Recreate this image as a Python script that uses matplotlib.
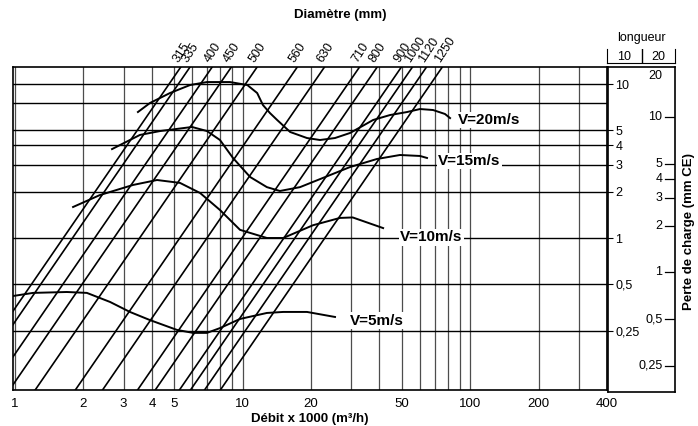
import numpy as np
import matplotlib
matplotlib.use('Agg')
import matplotlib.pyplot as plt
from matplotlib.ticker import NullLocator

plt.rcParams['font.family'] = ['Liberation Sans', 'DejaVu Sans']

# --- données lues sur l'abaque ---
# lignes de diamètre : débit (x1000 m3/h) pour une perte de 1 mm CE
DIAMETRES = [315, 335, 400, 450, 500, 560, 630, 710, 800, 900, 1000, 1120, 1250]
DEBIT_A_1MM = [1.63, 1.79, 2.24, 2.72, 3.53, 5.30, 6.98, 9.95, 11.9, 15.2, 17.0, 19.6, 23.0]
PENTE = 2.15

# courbes de vitesse
V20_DEBIT = [3.47, 3.92, 4.80, 5.88, 6.98, 8.81, 10.5, 11.6, 12.3, 13.2, 14.2, 16.2, 19.2,
             21.9, 25.5, 29.7, 37.5, 44.5, 52.9, 60.3, 68.8, 77.6, 81.7]
V20_PERTE = [6.58, 7.53, 8.74, 9.85, 10.3, 10.3, 9.85, 8.74, 7.3, 6.48, 5.84, 4.88, 4.46,
             4.33, 4.46, 4.81, 5.84, 6.29, 6.58, 6.88, 6.78, 6.39, 6.01]
V15_DEBIT = [2.67, 3.54, 4.34, 6.00, 6.98, 7.96, 9.08, 10.8, 12.8, 14.6, 17.9, 29.7, 39.0, 49.2, 60.3, 64.7]
V15_PERTE = [3.78, 4.67, 4.95, 5.26, 4.95, 4.33, 3.31, 2.49, 2.14, 2.02, 2.14, 2.89, 3.26, 3.46, 3.41, 3.31]
V10_DEBIT = [1.80, 2.36, 3.30, 4.21, 5.31, 6.51, 7.96, 9.75, 12.8, 15.1, 20.4, 26.8, 30.5, 41.5]
V10_PERTE = [1.59, 1.90, 2.21, 2.38, 2.28, 1.96, 1.52, 1.13, 1.00, 1.00, 1.21, 1.35, 1.36, 1.16]
V5_DEBIT = [0.98, 1.20, 1.69, 2.07, 2.62, 3.20, 3.92, 5.15, 6.06, 6.98, 7.96, 9.75, 12.8, 15.1, 19.2, 25.5]
V5_PERTE = [0.42, 0.44, 0.446, 0.44, 0.384, 0.331, 0.293, 0.253, 0.242, 0.242, 0.260, 0.298, 0.326,
            0.331, 0.331, 0.307]
VITESSES = ['V=20m/s', 'V=15m/s', 'V=10m/s', 'V=5m/s']
POS_ETIQUETTES = [(88.6, 5.84), (72.3, 3.16), (49.2, 1.01), (29.7, 0.29)]

# grilles et graduations
GRILLE_DEBIT = [1, 2, 3, 4, 5, 6, 7, 8, 9, 10, 20, 30, 40, 50, 60, 70, 80, 90, 100, 200, 300, 400]
GRILLE_PERTE = [10, 7.5, 5, 4, 3, 2, 1, 0.5, 0.25]
XTICKS = [1, 2, 3, 4, 5, 10, 20, 50, 100, 200, 400]
XTICK_LABELS = ['1', '2', '3', '4', '5', '10', '20', '50', '100', '200', '400']
LONG10_VALS = [10, 5, 4, 3, 2, 1, 0.5, 0.25]
LONG10_LABELS = ['10', '5', '4', '3', '2', '1', '0,5', '0,25']
LONG20_VALS = [20, 10, 5, 4, 3, 2, 1, 0.5, 0.25]
LONG20_LABELS = ['20', '10', '5', '4', '3', '2', '1', '0,5', '0,25']

W, H = 698, 426
fig = plt.figure(figsize=(W / 100, H / 100), dpi=100)

ax = fig.add_axes([13 / W, 36 / H, 594 / W, 323 / H])
ax.set_xscale('log')
ax.set_yscale('log')
ax.set_xlim(0.98, 400)
ax.set_ylim(0.103, 12.9)

for q in GRILLE_DEBIT:
    ax.axvline(q, color='#4d4d4d', lw=0.9, zorder=1)
for p in GRILLE_PERTE:
    ax.axhline(p, color='black', lw=1.0, zorder=1)

# lignes de diamètre
p_lim = np.array(ax.get_ylim())
for d, q1 in zip(DIAMETRES, DEBIT_A_1MM):
    q_vals = q1 * p_lim ** (1 / PENTE)
    ax.plot(q_vals, p_lim, color='black', lw=1.2, zorder=2)
    ax.annotate(str(d), (q_vals[1], p_lim[1]), xytext=(0, 2), textcoords='offset points',
                rotation=57, rotation_mode='anchor', ha='left', va='bottom',
                fontsize=9, annotation_clip=False)

# courbes de vitesse
courbes = [(V20_DEBIT, V20_PERTE), (V15_DEBIT, V15_PERTE), (V10_DEBIT, V10_PERTE), (V5_DEBIT, V5_PERTE)]
for (qs, ps), nom, pos in zip(courbes, VITESSES, POS_ETIQUETTES):
    ax.plot(qs, ps, color='black', lw=1.4, zorder=3)
    ax.text(pos[0], pos[1], nom, ha='left', va='center', fontsize=11, fontweight='bold',
            zorder=4, bbox=dict(facecolor='white', edgecolor='none', pad=1))

ax.xaxis.set_minor_locator(NullLocator())
ax.yaxis.set_minor_locator(NullLocator())
ax.set_xticks(XTICKS)
ax.set_xticklabels(XTICK_LABELS)
ax.tick_params(axis='x', length=0, pad=6, labelsize=9.5)
ax.yaxis.tick_right()
ax.set_yticks(LONG10_VALS)
ax.set_yticklabels(LONG10_LABELS)
ax.tick_params(axis='y', length=4, pad=2, labelsize=9)
for s in ax.spines.values():
    s.set_linewidth(1.2)
ax.set_xlabel('Débit x 1000 (m³/h)', fontsize=9.5, fontweight='bold', labelpad=2)

# échelle longueur 20 m
ax2 = fig.add_axes([608 / W, 34 / H, 67 / W, 325 / H])
ax2.set_facecolor('none')
ax2.set_yscale('log')
ax2.set_ylim(0.17, 21)
ax2.set_xlim(0, 1)
ax2.set_xticks([])
ax2.yaxis.set_minor_locator(NullLocator())
ax2.set_yticks([])
for s in ax2.spines.values():
    s.set_linewidth(1.2)
for v, lab in zip(LONG20_VALS, LONG20_LABELS):
    haut = v == max(LONG20_VALS)
    ax2.text(0.81, v, lab, ha='right', va='top' if haut else 'center', fontsize=9)
    if not haut:
        ax2.plot([0.85, 1.0], [v, v], color='black', lw=0.9)

# en-tête "longueur"
ax3 = fig.add_axes([607 / W, (H - 63) / H, 68 / W, 14 / H])
ax3.set_facecolor('none')
ax3.set_xlim(0, 1)
ax3.set_ylim(0, 1)
ax3.set_xticks([])
ax3.set_yticks([])
ax3.spines['top'].set_visible(False)
ax3.axvline(0.515, color='black', lw=1.0)
ax3.text(0.25, 0.45, '10', ha='center', va='center', fontsize=9)
ax3.text(0.76, 0.45, '20', ha='center', va='center', fontsize=9)
fig.text(641 / W, 1 - 38 / H, 'longueur', ha='center', va='center', fontsize=9)

fig.text(340 / W, 1 - 15 / H, 'Diamètre (mm)', ha='center', va='center', fontsize=9.5, fontweight='bold')
fig.text(689 / W, 1 - 232 / H, 'Perte de charge (mm CE)', ha='center', va='center', rotation=90,
         fontsize=9.5, fontweight='bold')

fig.savefig('out.png', dpi=100)
